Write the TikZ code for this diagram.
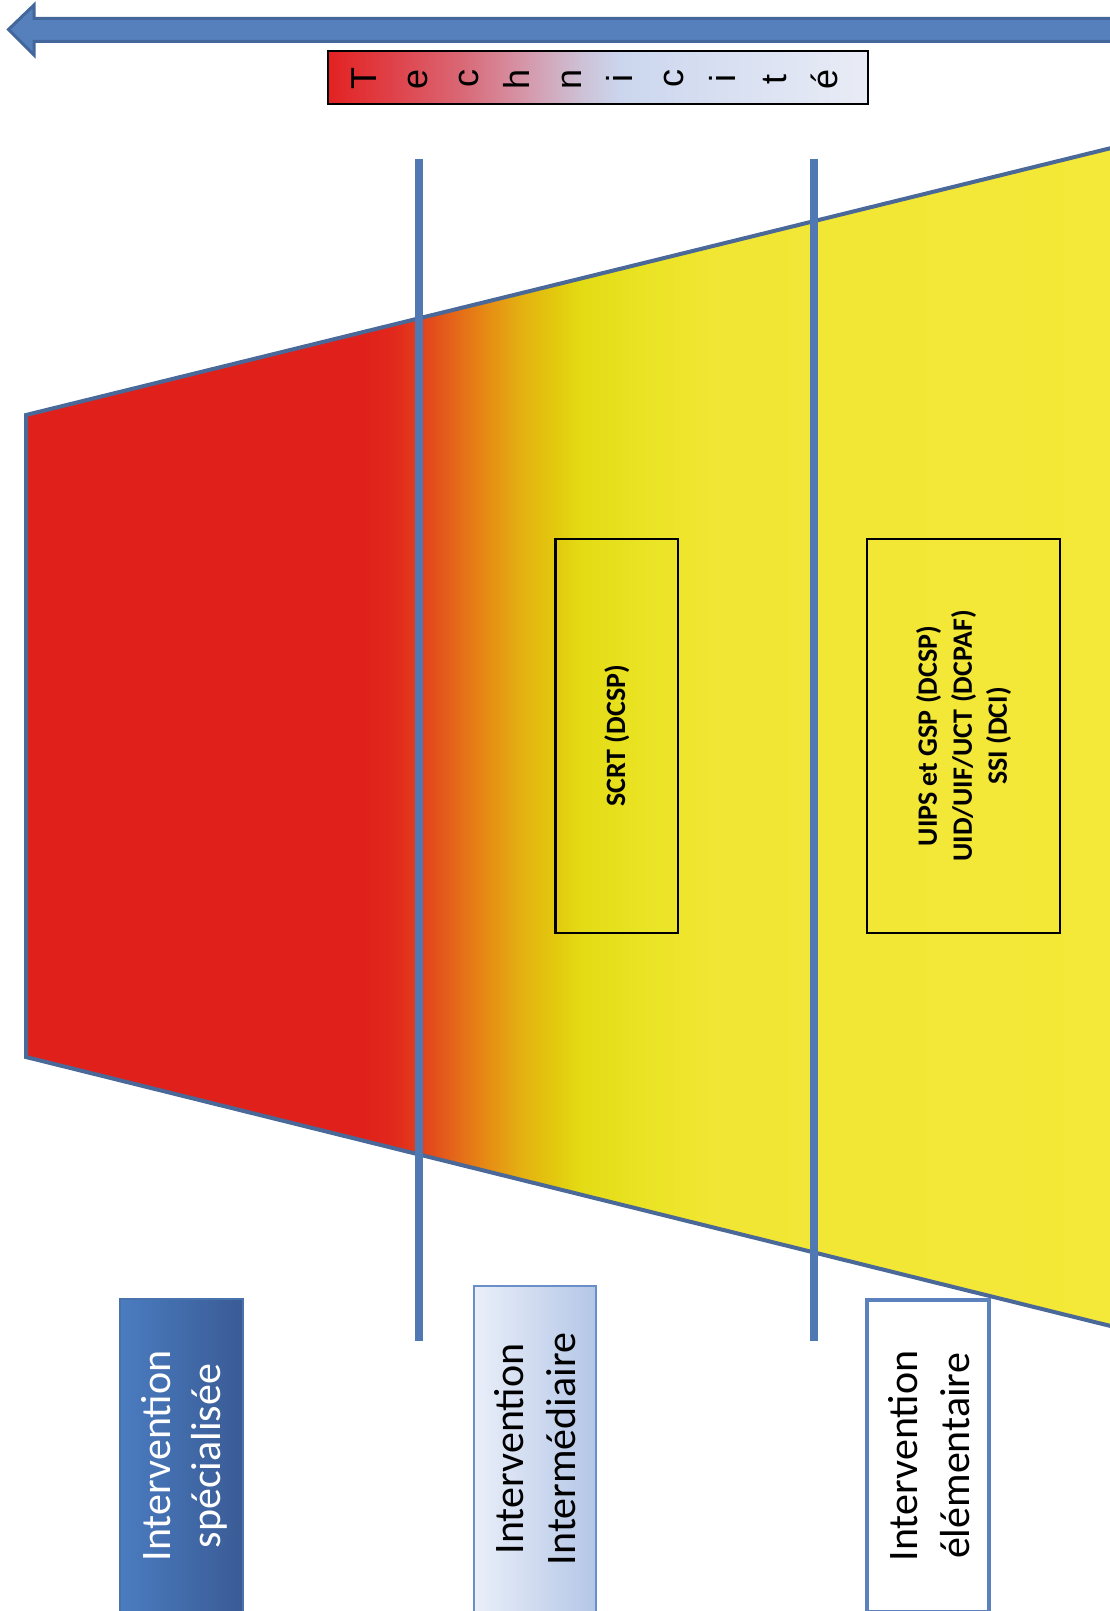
\documentclass[tikz,border=0pt]{standalone}
\usepackage{fontspec}
\setmainfont{Carlito}
\newfontfamily\arialfont{Liberation Sans}
\definecolor{arrowfill}{HTML}{5580BB}
\definecolor{arrowline}{HTML}{44679B}
\definecolor{trapline}{HTML}{4A6898}
\definecolor{vline}{HTML}{5079B4}
% trapezoid gradient stops
\definecolor{g0}{HTML}{E0201B}
\definecolor{g1}{HTML}{E0201B}
\definecolor{g2}{HTML}{E1291C}
\definecolor{g3}{HTML}{E3401C}
\definecolor{g4}{HTML}{E4621A}
\definecolor{g5}{HTML}{E68A14}
\definecolor{g6}{HTML}{E4B012}
\definecolor{g7}{HTML}{E3C90E}
\definecolor{g8}{HTML}{E3DB14}
\definecolor{g9}{HTML}{EAE323}
\definecolor{g10}{HTML}{F2E635}
\definecolor{g11}{HTML}{F4E838}
% technicite gradient stops
\definecolor{t0}{HTML}{E32222}
\definecolor{t1}{HTML}{DF434B}
\definecolor{t2}{HTML}{D96A78}
\definecolor{t3}{HTML}{D59BAE}
\definecolor{t4}{HTML}{CDC0D5}
\definecolor{t5}{HTML}{CBD6EE}
\definecolor{t6}{HTML}{E9ECF6}
% label boxes
\definecolor{specL}{HTML}{4A7CC0}
\definecolor{specR}{HTML}{3A5B95}
\definecolor{specD}{HTML}{4A73AE}
\definecolor{interL}{HTML}{EAEFF9}
\definecolor{interR}{HTML}{B4C6E7}
\definecolor{interD}{HTML}{6A8FC8}
\definecolor{elemD}{HTML}{5B82BD}
\begin{document}
\begin{tikzpicture}[x=1pt,y=-1pt,
  letter/.style={rotate=90,anchor=base,inner sep=0pt,font=\arialfont\fontsize{36}{40}\selectfont},
  lbl/.style={rotate=90,anchor=base,inner sep=0pt,font=\fontsize{42}{51}\selectfont},
  unitbox/.style={rotate=90,draw=black,line width=2.5pt,inner sep=0pt,align=center,
    font=\bfseries\fontsize{28}{35}\selectfont},
  labelbox/.style={inner sep=0pt},
  vsep/.style={draw=vline,line width=8pt}
]
\useasboundingbox (0,0) rectangle (1110,1611);
\clip (0,0) rectangle (1110,1611);

% top arrow
\draw[fill=arrowfill,draw=arrowline,line width=3pt,line join=miter]
  (8.5,29.5) -- (34,5) -- (34,18.5) -- (1125,18.5) -- (1125,41.5) -- (34,41.5) -- (34,55) -- cycle;

% Technicite bar
\begin{scope}
  \clip (328,51) rectangle (868,104);
  \foreach \xa/\xb/\ca/\cb in {328/395/t0/t1, 395/465/t1/t2, 465/530/t2/t3,
      530/580/t3/t4, 580/620/t4/t5, 620/868/t5/t6}
    \fill[left color=\ca,right color=\cb] (\xa,51) rectangle (\xb+0.7,104);
\end{scope}
\node[draw=black,line width=2pt,minimum width=540pt,minimum height=53pt,inner sep=0pt] (tech) at (598,77.5) {};
\foreach \l [count=\i] in {T,e,c,h,n,i,c,i,t,é}
  \node[letter] (L\i) at ({376+51.3*(\i-1)},79) {\l};

% trapezoid
\begin{scope}
  \clip (26,415) -- (1130,143.4) -- (1130,1330.8) -- (26,1057) -- cycle;
  \foreach \xa/\xb/\ca/\cb in {26/360/g0/g1, 360/395/g1/g2, 395/420/g2/g3, 420/450/g3/g4,
      450/485/g4/g5, 485/520/g5/g6, 520/555/g6/g7, 555/580/g7/g8, 580/640/g8/g9,
      640/720/g9/g10, 720/1130/g10/g11}
    \fill[left color=\ca,right color=\cb] (\xa,100) rectangle (\xb+0.7,1400);
\end{scope}
\draw[trapline,line width=4pt,line join=miter]
  (1130,143.4) -- (26,415) -- (26,1057) -- (1130,1330.8);

% vertical separators
\coordinate (v1t) at (419,159);
\coordinate (v1b) at (419,1341);
\coordinate (v2t) at (814,159);
\coordinate (v2b) at (814,1341);
\draw[vsep] (v1t) -- (v1b);
\draw[vsep] (v2t) -- (v2b);

% unit boxes
\node[unitbox,minimum width=394pt,minimum height=122.5pt] (scrt) at (616.75,736) {SCRT (DCSP)};
\node[unitbox,minimum width=394pt,minimum height=193pt] (uips) at (963.5,736)
  {UIPS et GSP (DCSP)\\UID/UIF/UCT (DCPAF)\\SSI (DCI)};

% bottom label boxes
\node[labelbox,draw=specD,line width=1.5pt,left color=specL,right color=specR,
  minimum width=123pt,minimum height=314pt] (spec) at (181.5,1456) {};
\node[lbl,text=white] (spec1) at (170,1456) {Intervention};
\node[lbl,text=white] (spec2) at (220,1456) {spécialisée};

\node[labelbox,draw=interD,line width=2pt,left color=interL,right color=interR,
  minimum width=122pt,minimum height=326pt] (inter) at (535,1449) {};
\node[lbl] (inter1) at (523.6,1449) {Intervention};
\node[lbl] (inter2) at (575,1449) {Intermédiaire};

\node[labelbox,draw=elemD,line width=3.5pt,fill=white,
  minimum width=122pt,minimum height=312pt] (elem) at (928,1456) {};
\node[lbl] (elem1) at (917,1456) {Intervention};
\node[lbl] (elem2) at (969,1456) {élémentaire};
\end{tikzpicture}
\end{document}
